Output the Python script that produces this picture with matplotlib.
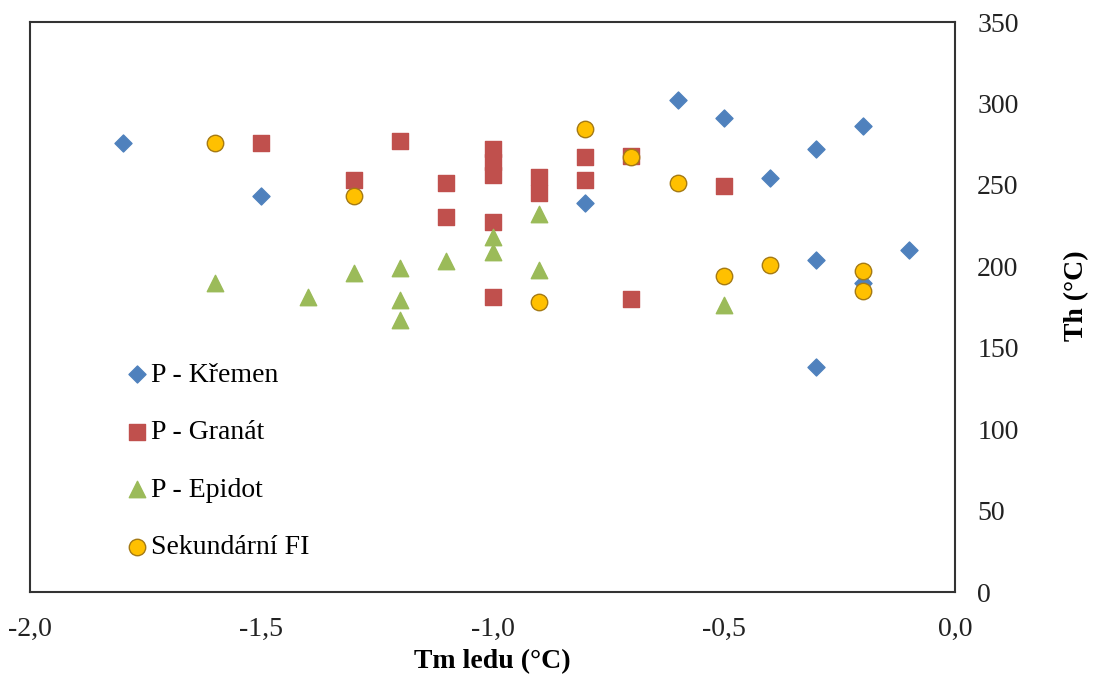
import matplotlib
matplotlib.use("Agg")

import matplotlib.pyplot as plt

# Tm ledu (°C) vs Th (°C) per inclusion group
KREMEN_X = [-1.8, -1.5, -0.8, -0.6, -0.5, -0.4, -0.3, -0.2, -0.3, -0.1, -0.3, -0.2]
KREMEN_Y = [276, 243, 239, 302, 291, 254, 272, 286, 204, 210, 138, 190]

GRANAT_X = [-1.5, -1.2, -1.3, -1.1, -1.1, -1.0, -1.0, -1.0, -1.0, -1.0,
            -0.9, -0.9, -0.8, -0.8, -0.7, -0.7, -0.5]
GRANAT_Y = [276, 277, 253, 251, 230, 272, 264, 256, 227, 181,
            255, 245, 267, 253, 268, 180, 249]

EPIDOT_X = [-1.6, -1.4, -1.3, -1.2, -1.2, -1.2, -1.1, -1.0, -1.0, -0.9, -0.9, -0.5]
EPIDOT_Y = [190, 181, 196, 199, 179, 167, 203, 218, 209, 232, 198, 176]

SEKUND_X = [-1.6, -1.3, -0.9, -0.8, -0.7, -0.6, -0.5, -0.4, -0.2, -0.2]
SEKUND_Y = [276, 243, 178, 284, 267, 251, 194, 201, 197, 185]

X_TICKS = [-2.0, -1.5, -1.0, -0.5, 0.0]
X_TICK_LABELS = ["-2,0", "-1,5", "-1,0", "-0,5", "0,0"]
Y_TICKS = [0, 50, 100, 150, 200, 250, 300, 350]

FONT = "Liberation Serif"
FS = 20

plt.rcParams["font.family"] = [FONT, "DejaVu Serif"]

fig = plt.figure(figsize=(11, 6.82), dpi=100)
ax = fig.add_axes([30 / 1100, 1 - 592 / 682, 925 / 1100, 570 / 682])

ax.scatter(KREMEN_X, KREMEN_Y, marker="D", s=75, color="#4F81BD",
           label="P - Křemen", zorder=3)
ax.scatter(GRANAT_X, GRANAT_Y, marker="s", s=135, color="#C0504D",
           label="P - Granát", zorder=4)
ax.scatter(EPIDOT_X, EPIDOT_Y, marker="^", s=140, color="#9BBB59",
           label="P - Epidot", zorder=5)
ax.scatter(SEKUND_X, SEKUND_Y, marker="o", s=140, color="#FFC000",
           edgecolors="#A57A14", linewidths=1.0,
           label="Sekundární FI", zorder=6)

ax.set_xlim(-2.0, 0.0)
ax.set_ylim(0, 350)
ax.set_xticks(X_TICKS)
ax.set_xticklabels(X_TICK_LABELS)
ax.set_yticks(Y_TICKS)
ax.yaxis.tick_right()
ax.yaxis.set_label_position("right")
ax.tick_params(axis="both", length=0, labelsize=FS, colors="#222222")
ax.tick_params(axis="x", pad=18)
ax.tick_params(axis="y", pad=16)

for sp in ax.spines.values():
    sp.set_color("#333333")
    sp.set_linewidth(1.5)

ax.set_xlabel("Tm ledu (°C)", fontsize=FS, fontweight="bold")
ax.xaxis.set_label_coords(0.5, -0.1)
ax.set_ylabel("Th (°C)", fontsize=FS, fontweight="bold")
ax.yaxis.set_label_coords(1.118, 0.52)

ax.legend(loc="upper left", bbox_to_anchor=(0.102, 0.403), frameon=False,
          fontsize=FS, borderpad=0, borderaxespad=0, handlelength=0.9,
          handletextpad=0.05, labelspacing=1.15, scatterpoints=1)

fig.savefig("out.png", dpi=100)
